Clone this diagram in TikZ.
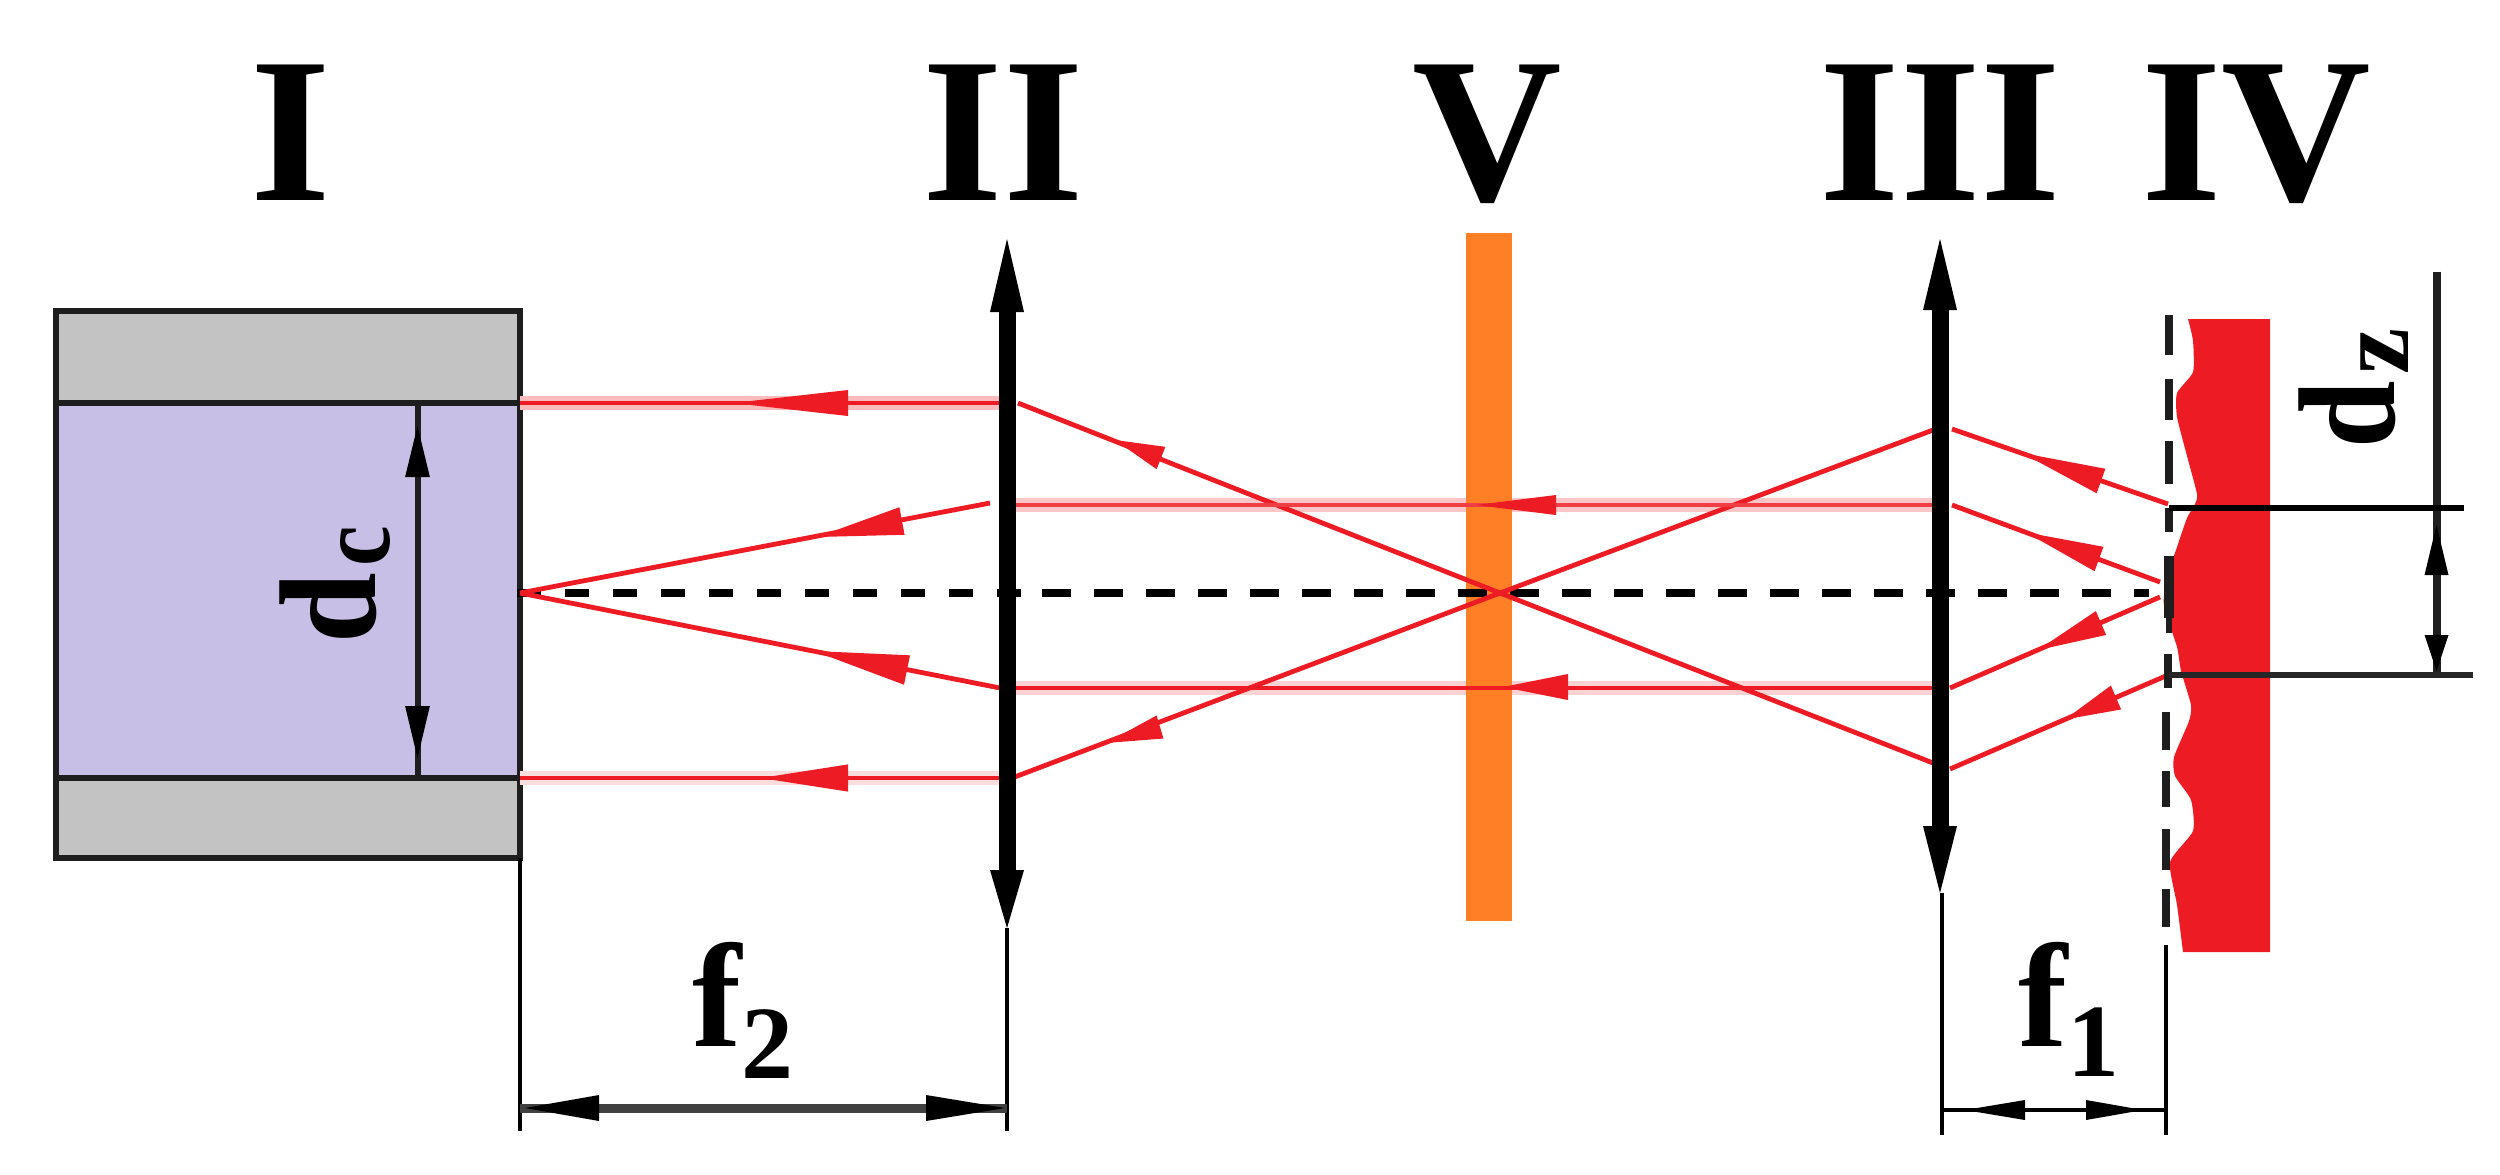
\documentclass[tikz,border=0pt]{standalone}
\usepackage{fontspec}
\setmainfont{Liberation Serif}
\usetikzlibrary{calc}
\definecolor{rayred}{HTML}{ED1C24}
\definecolor{orangeplate}{HTML}{FF7F27}
\definecolor{wallgray}{HTML}{C3C3C3}
\definecolor{corelav}{HTML}{C8BFE7}
\definecolor{darkline}{HTML}{1E1E1E}
\newcommand{\headfill}[4]{\fill[#1] (#2) -- ($(#3)!#4!90:(#2)$) -- ($(#3)!#4!-90:(#2)$) -- cycle;}
\newcommand{\bigfont}{\fontsize{103.5}{110}\selectfont\bfseries}
\newcommand{\midfont}{\fontsize{69}{80}\selectfont\bfseries}
\newcommand{\subfont}{\fontsize{52}{60}\selectfont\bfseries}
\tikzset{
  romanlabel/.style={inner sep=0pt,outer sep=0pt,anchor=base,font=\bigfont},
  dimlabel/.style={inner sep=0pt,outer sep=0pt,anchor=base west},
  rayline/.style={draw=rayred,line width=2.4pt},
  rayhalo/.style={draw=rayred!#1,line width=7pt},
  blackline/.style={draw=darkline,line width=3pt},
  thinline/.style={draw=black,line width=1.9pt},
  lensbar/.style={draw=black,line width=8.5pt},
  axisleft/.style={draw=black,line width=4pt,dash pattern=on 12pt off 12pt},
  axisright/.style={draw=black,line width=4pt,dash pattern=on 14.5pt off 11.5pt},
  dashseg/.style={draw=darkline,line width=3.6pt}
}
\begin{document}
\begin{tikzpicture}[x=0.5pt,y=-0.5pt]
\useasboundingbox (0,0) rectangle (2500,1174);

% key points
\coordinate (boxTL) at (56,311);
\coordinate (coreTL) at (56,403);
\coordinate (coreTR) at (520,403);
\coordinate (coreBL) at (56,778);
\coordinate (coreBR) at (520,778);
\coordinate (boxBR) at (520,858);
\coordinate (focusL) at (520,593);
\coordinate (focusM) at (1500,593);
\coordinate (lensA1) at (1000,403);
\coordinate (lensA2) at (990,503);
\coordinate (lensA3) at (1000,688);
\coordinate (lensA4) at (1000,778);
\coordinate (lensB1) at (1018,403);
\coordinate (lensB2) at (1016,505);
\coordinate (lensB3) at (1016,688);
\coordinate (lensB4) at (1012,778);
\coordinate (lensC1) at (1933,430);
\coordinate (lensC2) at (1932,505);
\coordinate (lensC3) at (1932,688);
\coordinate (lensC4) at (1933,763);
\coordinate (lensD1) at (1952,429);
\coordinate (lensD2) at (1952,505);
\coordinate (lensD3) at (1950,688);
\coordinate (lensD4) at (1950,769);
\coordinate (spotA) at (2168,504);
\coordinate (spotB) at (2160,582);
\coordinate (spotC) at (2160,597);
\coordinate (spotD) at (2168,675);

% cavity box
\fill[wallgray] (boxTL) rectangle (boxBR);
\fill[corelav] (coreTL) rectangle (coreBR);
\draw[draw=darkline,line width=3.3pt] (boxTL) rectangle (boxBR);
\draw[blackline] (coreTL) -- (coreTR);
\draw[blackline] (coreBL) -- (coreBR);

% dc dimension
\coordinate (dcT) at (417.5,403);
\coordinate (dcB) at (417.5,778);
\draw[blackline] (dcT) -- (dcB);
\headfill{black}{417.5,426}{417.5,477}{6.2pt}
\headfill{black}{417.5,758}{417.5,706}{6.2pt}
\node[dimlabel,rotate=90] (dcLabel) at (375,643) {\scalebox{.92}[1]{\midfont d}\raisebox{-7pt}{\hspace{3pt}\scalebox{.88}[1]{\subfont c}}};

% pale glow on the horizontal rays (under the plate)
\draw[rayhalo=30] (coreTR) -- (lensA1);
\draw[rayhalo=15] (coreBR) -- (lensA4);
\draw[rayhalo=25] (lensB2) -- (lensC2);
\draw[rayhalo=20] (lensB3) -- (lensC3);

% plate V
\fill[orangeplate] (1466,233) rectangle (1512,921);

% plate IV
\fill[rayred] plot[smooth,tension=.35] coordinates {(2188,319) (2193,341) (2193,372) (2177,393) (2177,417) (2187,456) (2197,494) (2195,504) (2187,518) (2177,547) (2166,580) (2164,606) (2177,647) (2181,671) (2191,705) (2189,721) (2174,757) (2175,776) (2191,800) (2193,831) (2170,862) (2177,905) (2183,952)} -- (2270,952) -- (2270,319) -- cycle;

% optical axis
\draw[axisleft] (517,593) -- (1021,593);
\draw[axisright] (1042,593) -- (2149,593);

% rays
\draw[rayline] (coreTR) -- (lensA1);
\draw[rayline] (coreBR) -- (lensA4);
\draw[rayline] (focusL) -- (lensA2);
\draw[rayline] (focusL) -- (lensA3);
\draw[rayline] (lensB1) -- (focusM) -- (lensC4);
\draw[rayline] (lensB4) -- (focusM) -- (lensC1);
\draw[rayline,draw=rayred!85] (lensB2) -- (lensC2);
\draw[rayline] (lensB3) -- (lensC3);
\draw[rayline] (lensD1) -- (spotA);
\draw[rayline] (lensD2) -- (spotB);
\draw[rayline] (lensD3) -- (spotC);
\draw[rayline] (lensD4) -- (spotD);

% ray arrowheads
\headfill{rayred}{733,403}{848,403}{6.5pt}
\headfill{rayred}{761,778}{848,778}{6.8pt}
\headfill{rayred}{817,537}{902,521}{7pt}
\headfill{rayred}{814,651}{907,670}{7.5pt}
\headfill{rayred}{1115,440}{1161,458}{6pt}
\headfill{rayred}{1106,743}{1160,727}{6pt}
\headfill{rayred}{1476,505}{1556,505}{5pt}
\headfill{rayred}{1503,687}{1568,687}{6.5pt}
\headfill{rayred}{2022,453}{2101,481}{6.5pt}
\headfill{rayred}{2026,532.4}{2099,559}{6.5pt}
\headfill{rayred}{2038,650}{2101,623}{6.5pt}
\headfill{rayred}{2065,719.4}{2116,697.5}{6.5pt}

% lens II
\coordinate (lensIIt) at (1007,239);
\coordinate (lensIIb) at (1007,928);
\draw[lensbar] (1007,312) -- (1007,870);
\headfill{black}{lensIIt}{1007,312}{8.5pt}
\headfill{black}{lensIIb}{1007,870}{8.5pt}

% lens III
\coordinate (lensIIIt) at (1940,239);
\coordinate (lensIIIb) at (1940,893);
\draw[lensbar] (1940,310) -- (1940,826);
\headfill{black}{lensIIIt}{1940,310}{8.5pt}
\headfill{black}{lensIIIb}{1940,826}{8.5pt}

% image plane, dashed
\foreach \ya/\yb/\xx in {315/355/2169,379/420/2169,441/484/2169,508/532/2169,654/688/2168,712/750/2166,771/807/2166,829/870/2166,889/927/2166}
  \draw[dashseg] (\xx,\ya) -- (\xx,\yb);
\draw[draw=darkline,line width=5pt] (2169,556) -- (2169,618);
\draw[draw=darkline,line width=3pt] (2169,618) -- (2169,633);

% witness lines
\draw[thinline] (boxBR) -- (520,1131);
\draw[thinline] (lensIIb) -- (1007,1131);
\draw[thinline] (1942,893) -- (1942,1135);
\draw[thinline] (2166,945) -- (2166,1135);

% f2 dimension
\draw[draw=black!75,line width=4.5pt] (520,1108) -- (1007,1108);
\headfill{black}{525,1108}{599,1108}{6.5pt}
\headfill{black}{1005,1108}{926,1108}{6.5pt}

% f1 dimension
\draw[thinline] (1942,1110) -- (2166,1110);
\headfill{black}{1965,1110}{2025,1110}{5pt}
\headfill{black}{2143,1110}{2086,1110}{5pt}

% dz dimension
\coordinate (dzT) at (2436.5,271.5);
\coordinate (dzB) at (2436.5,675);
\coordinate (dzA) at (2169,508);
\coordinate (dzAe) at (2464,508);
\coordinate (dzC) at (2169,675);
\coordinate (dzCe) at (2473,675);
\draw[draw=darkline,line width=4pt] (dzT) -- (dzB);
\draw[draw=black,line width=2.6pt] (dzA) -- (dzAe);
\draw[draw=black!85,line width=2.6pt] (dzC) -- (dzCe);
\headfill{black}{2436.5,525}{2436.5,575}{6pt}
\headfill{black}{2436.5,671}{2436.5,635}{6pt}

% labels
\node[romanlabel] (labI) at (291,200) {I};
\node[romanlabel] (labII) at (1003.5,200) {II};
\node[romanlabel] (labV) at (1487.5,200) {V};
\node[romanlabel] (labIII) at (1940.5,200) {III};
\node[romanlabel] (labIV) at (2256,200) {IV};
\node[dimlabel,rotate=90] (dzLabel) at (2394,448) {\scalebox{.88}[1]{\midfont d}\raisebox{-7pt}{\hspace{3pt}\subfont z}};
\node[dimlabel] (fTwo) at (692,1046) {\fontsize{74}{80}\selectfont\bfseries f\raisebox{-16pt}{\subfont 2}};
\node[dimlabel] (fOne) at (2018,1046) {\fontsize{74}{80}\selectfont\bfseries f\raisebox{-15pt}{\subfont 1}};
\end{tikzpicture}
\end{document}
